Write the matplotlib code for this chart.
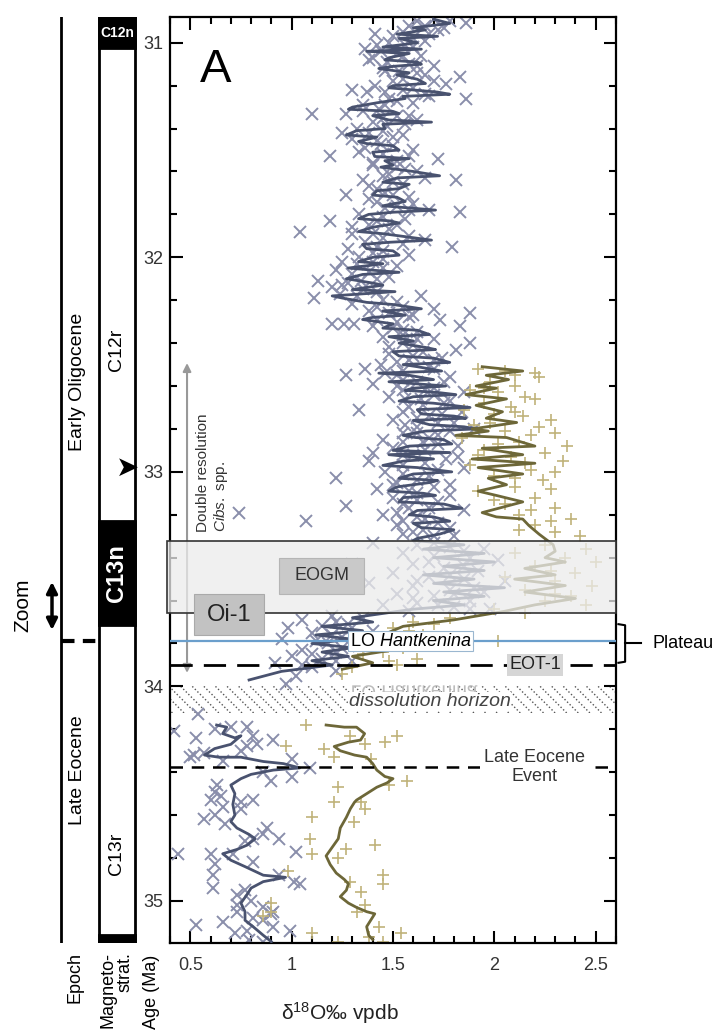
import numpy as np
import matplotlib
matplotlib.use('Agg')
import matplotlib.pyplot as plt
from matplotlib.patches import Rectangle, PathPatch
from matplotlib.textpath import TextPath
from matplotlib.font_manager import FontProperties
from matplotlib.transforms import Affine2D
from matplotlib.ticker import MultipleLocator

plt.rcParams['font.family'] = ['Liberation Sans', 'DejaVu Sans']
plt.rcParams['mathtext.fontset'] = 'custom'
plt.rcParams['mathtext.rm'] = 'Liberation Sans'
plt.rcParams['mathtext.it'] = 'Liberation Sans:italic'

# Cibicidoides line (Ma, d18O), upper part above dissolution horizon
cib_line_age = [30.89, 30.91, 30.93, 30.94, 30.96, 30.97, 30.98, 31.00, 31.02, 31.03,
                31.04, 31.05, 31.07, 31.08, 31.09, 31.10, 31.11, 31.12, 31.14, 31.15,
                31.17, 31.19, 31.20, 31.21, 31.23, 31.24, 31.25, 31.26, 31.28, 31.30,
                31.31, 31.32, 31.33, 31.34, 31.36, 31.37, 31.38, 31.40, 31.41, 31.43,
                31.44, 31.46, 31.47, 31.48, 31.50, 31.51, 31.53, 31.54, 31.55, 31.57,
                31.58, 31.60, 31.62, 31.63, 31.65, 31.66, 31.68, 31.69, 31.71, 31.72,
                31.74, 31.76, 31.78, 31.79, 31.80, 31.82, 31.83, 31.84, 31.86, 31.88,
                31.89, 31.90, 31.92, 31.93, 31.94, 31.96, 31.97, 31.99, 32.00, 32.02,
                32.03, 32.05, 32.06, 32.07, 32.08, 32.10, 32.12, 32.13, 32.15, 32.16,
                32.18, 32.19, 32.21, 32.22, 32.24, 32.25, 32.27, 32.28, 32.29, 32.31,
                32.33, 32.34, 32.36, 32.37, 32.39, 32.40, 32.42, 32.43, 32.44, 32.46,
                32.47, 32.49, 32.50, 32.51, 32.53, 32.54, 32.55, 32.57, 32.58, 32.59,
                32.60, 32.61, 32.62, 32.63, 32.64, 32.65, 32.67, 32.68, 32.70, 32.71,
                32.73, 32.74, 32.75, 32.76, 32.78, 32.79, 32.80, 32.81, 32.83, 32.84,
                32.85, 32.87, 32.88, 32.90, 32.91, 32.92, 32.94, 32.95, 32.97, 32.98,
                33.00, 33.01, 33.03, 33.04, 33.05, 33.07, 33.09, 33.10, 33.11, 33.12,
                33.14, 33.15, 33.17, 33.18, 33.20, 33.21, 33.23, 33.24, 33.26, 33.27,
                33.29, 33.31, 33.32, 33.34, 33.36, 33.38, 33.40, 33.42, 33.44, 33.46,
                33.48, 33.50, 33.52, 33.54, 33.56, 33.58, 33.60, 33.62, 33.64, 33.66,
                33.68, 33.70, 33.72, 33.74, 33.76, 33.78, 33.80, 33.82, 33.84, 33.86,
                33.88, 33.90, 33.93, 33.97]
cib_line_d18o = [1.70, 1.78, 1.60, 1.66, 1.52, 1.72, 1.53, 1.62, 1.45, 1.64,
                 1.37, 1.58, 1.48, 1.46, 1.62, 1.64, 1.50, 1.43, 1.58, 1.52,
                 1.62, 1.66, 1.50, 1.48, 1.72, 1.78, 1.55, 1.56, 1.42, 1.30,
                 1.28, 1.50, 1.53, 1.40, 1.48, 1.69, 1.45, 1.46, 1.32, 1.27,
                 1.42, 1.33, 1.37, 1.50, 1.53, 1.40, 1.41, 1.58, 1.46, 1.50,
                 1.44, 1.60, 1.73, 1.52, 1.45, 1.58, 1.53, 1.42, 1.40, 1.52,
                 1.56, 1.45, 1.71, 1.50, 1.38, 1.33, 1.48, 1.53, 1.40, 1.33,
                 1.45, 1.53, 1.69, 1.48, 1.35, 1.37, 1.50, 1.53, 1.40, 1.33,
                 1.45, 1.28, 1.40, 1.53, 1.35, 1.27, 1.40, 1.45, 1.30, 1.51,
                 1.20, 1.25, 1.37, 1.50, 1.64, 1.45, 1.56, 1.40, 1.35, 1.50,
                 1.45, 1.62, 1.68, 1.48, 1.60, 1.53, 1.66, 1.71, 1.50, 1.53,
                 1.70, 1.78, 1.55, 1.62, 1.74, 1.43, 1.58, 1.70, 1.48, 1.62,
                 1.76, 1.60, 1.56, 1.72, 1.81, 1.60, 1.53, 1.70, 1.88, 1.62,
                 1.64, 1.80, 1.86, 1.60, 1.68, 1.85, 1.91, 1.66, 1.55, 1.61,
                 1.75, 1.79, 1.58, 1.50, 1.78, 1.48, 1.70, 1.55, 1.45, 1.62,
                 1.79, 1.60, 1.53, 1.72, 1.68, 1.52, 1.48, 1.65, 1.71, 1.55,
                 1.53, 1.75, 1.84, 1.62, 1.58, 1.70, 1.78, 1.60, 1.64, 1.80,
                 1.73, 1.62, 1.60, 1.85, 1.65, 1.95, 1.70, 2.00, 1.75, 1.95,
                 1.65, 1.90, 1.70, 2.05, 1.75, 1.95, 1.70, 1.85, 1.60, 1.45,
                 1.30, 1.40, 1.15, 1.35, 1.12, 1.30, 1.10, 1.30, 1.15, 1.28,
                 1.10, 1.20, 0.95, 0.79]

# Cibicidoides line, lower part (Late Eocene)
cib_low_age = [34.18, 34.19, 34.22, 34.24, 34.23, 34.27, 34.29, 34.32, 34.33, 34.33,
               34.35, 34.36, 34.38, 34.39, 34.41, 34.43, 34.46, 34.50, 34.55, 34.60,
               34.63, 34.66, 34.69, 34.71, 34.74, 34.76, 34.78, 34.81, 34.84, 34.88,
               34.89, 34.91, 34.94, 34.97, 35.01, 35.05, 35.09, 35.12, 35.16, 35.19]
cib_low_d18o = [0.63, 0.68, 0.66, 0.72, 0.75, 0.70, 0.62, 0.57, 0.64, 0.75,
                0.86, 0.96, 1.04, 0.91, 0.80, 0.75, 0.70, 0.72, 0.71, 0.72,
                0.70, 0.73, 0.79, 0.82, 0.78, 0.73, 0.66, 0.70, 0.77, 0.86,
                0.97, 0.86, 0.80, 0.78, 0.75, 0.77, 0.77, 0.81, 0.86, 0.90]

# Cibicidoides single measurements (crosses)
cib_pts_age = [30.90, 30.89, 30.90, 30.91, 30.92, 30.93, 30.95, 30.96, 30.96, 30.98,
               31.00, 31.01, 31.03, 31.04, 31.05, 31.06, 31.07, 31.09, 31.10, 31.11,
               31.12, 31.13, 31.14, 31.16, 31.19, 31.18, 31.20, 31.22, 31.23, 31.22,
               31.24, 31.26, 31.26, 31.28, 31.29, 31.31, 31.33, 31.33, 31.34, 31.36,
               31.37, 31.39, 31.40, 31.42, 31.43, 31.45, 31.46, 31.48, 31.49, 31.53,
               31.52, 31.53, 31.54, 31.56, 31.58, 31.60, 31.64, 31.62, 31.64, 31.66,
               31.68, 31.71, 31.71, 31.73, 31.75, 31.77, 31.79, 31.78, 31.80, 31.83,
               31.83, 31.85, 31.86, 31.88, 31.89, 31.90, 31.92, 31.93, 31.95, 31.96,
               31.97, 32.00, 32.02, 32.02, 32.04, 32.06, 32.08, 32.11, 32.10, 32.12,
               32.14, 32.15, 32.18, 32.17, 32.19, 32.20, 32.22, 32.23, 32.25, 32.26,
               32.27, 32.29, 32.29, 32.31, 32.31, 32.31, 32.32, 32.33, 32.35, 32.37,
               32.38, 32.40, 32.40, 32.43, 32.44, 32.45, 32.47, 32.48, 32.50, 32.51,
               32.52, 32.55, 32.55, 32.56, 32.58, 32.59, 32.61, 32.62, 32.63, 32.65,
               32.66, 32.68, 32.71, 32.70, 32.72, 32.74, 32.76, 32.77, 32.79, 32.80,
               32.82, 32.83, 32.85, 32.86, 32.88, 32.89, 32.91, 32.92, 32.94, 32.95,
               32.97, 32.98, 33.00, 33.03, 33.02, 33.05, 33.06, 33.08, 33.10, 33.12,
               33.16, 33.14, 33.17, 33.18, 33.20, 33.23, 33.22, 33.25, 33.26, 33.19,
               33.28, 33.30, 33.33, 33.34, 33.35, 33.36, 33.38, 33.39, 33.40, 33.41,
               33.43, 33.43, 33.45, 33.46, 33.47, 33.49, 33.50, 33.51, 33.52, 33.53,
               33.55, 33.56, 33.57, 33.58, 33.60, 33.61, 33.62, 33.63, 33.64, 33.65,
               33.67, 33.68, 33.69, 33.71, 33.72, 33.73, 33.74, 33.75, 33.77, 33.78,
               33.80, 33.81, 33.83, 33.84, 33.86, 33.87, 33.88, 33.89, 33.91, 33.93,
               33.99, 34.13, 33.95,
               30.92, 30.94, 30.97, 30.99, 31.01, 31.02, 31.06, 31.08, 31.11, 31.13,
               31.15, 31.17, 31.18, 31.21, 31.23, 31.25, 31.27, 31.29, 31.32, 31.34,
               31.35, 31.38, 31.41, 31.42, 31.44, 31.47, 31.50, 31.51, 31.55, 31.57,
               31.59, 31.61, 31.63, 31.65, 31.67, 31.70, 31.72, 31.74, 31.76, 31.78,
               31.81, 31.82, 31.85, 31.87, 31.89, 31.91, 31.94, 31.95, 31.98, 31.99,
               32.01, 32.03, 32.05, 32.07, 32.09, 32.11, 32.13, 32.16, 32.18, 32.21,
               32.23, 32.24, 32.26, 32.28, 32.30, 32.32, 32.34, 32.36, 32.38, 32.41,
               32.42, 32.46, 32.48, 32.49, 32.52, 32.53, 32.54, 32.57, 32.58, 32.60,
               32.62, 32.64, 32.66, 32.67, 32.69, 32.72, 32.73, 32.75, 32.77, 32.78,
               32.81, 32.82, 32.84, 32.86, 32.87, 32.90, 32.92, 32.93, 32.96, 32.99,
               33.01, 33.04, 33.06, 33.07, 33.09, 33.11, 33.13, 33.15, 33.17, 33.19,
               33.21, 33.23, 33.24, 33.27, 33.29, 33.30, 33.33, 33.37, 33.42, 33.44,
               33.48, 33.51, 33.54, 33.57, 33.59, 33.62, 33.64, 33.70, 33.73, 33.76,
               33.79, 33.82, 33.85, 33.88, 33.90,
               34.21, 34.24, 34.20, 34.19, 34.19, 34.23, 34.25, 34.27, 34.32, 34.33,
               34.31, 34.35, 34.30, 34.28, 34.40, 34.44, 34.42, 34.38, 34.34, 34.46,
               34.49, 34.51, 34.53, 34.56, 34.54, 34.53, 34.57, 34.62, 34.60, 34.64,
               34.66, 34.69, 34.71, 34.72, 34.71, 34.78, 34.78, 34.77, 34.83, 34.88,
               34.94, 34.82, 34.78, 34.88, 34.91, 34.92, 34.97, 34.95, 35.02, 35.00,
               35.03, 35.05, 35.06, 35.08, 35.11, 35.10, 35.15, 35.14, 35.09, 35.12,
               35.14, 35.18, 35.19, 35.05]
cib_pts_d18o = [1.62, 1.70, 1.78, 1.86, 1.66, 1.75, 1.55, 1.68, 1.41, 1.60,
                1.48, 1.56, 1.36, 1.44, 1.52, 1.64, 1.40, 1.47, 1.58, 1.70,
                1.45, 1.53, 1.62, 1.83, 1.76, 1.50, 1.41, 1.30, 1.37, 1.55,
                1.66, 1.86, 1.48, 1.60, 1.35, 1.43, 1.10, 1.27, 1.52, 1.62,
                1.40, 1.47, 1.32, 1.38, 1.55, 1.30, 1.42, 1.50, 1.36, 1.19,
                1.45, 1.58, 1.72, 1.40, 1.52, 1.62, 1.81, 1.45, 1.35, 1.55,
                1.42, 1.27, 1.50, 1.38, 1.60, 1.46, 1.83, 1.68, 1.33, 1.19,
                1.42, 1.52, 1.30, 1.04, 1.40, 1.58, 1.66, 1.36, 1.79, 1.28,
                1.45, 1.33, 1.25, 1.40, 1.52, 1.22, 1.30, 1.13, 1.42, 1.28,
                1.20, 1.35, 1.64, 1.24, 1.11, 1.45, 1.30, 1.55, 1.38, 1.88,
                1.60, 1.73, 1.42, 1.20, 1.26, 1.31, 1.83, 1.50, 1.62, 1.45,
                1.70, 1.88, 1.55, 1.81, 1.65, 1.48, 1.74, 1.58, 1.44, 1.68,
                1.36, 1.27, 1.52, 1.78, 1.62, 1.40, 1.70, 1.55, 1.85, 1.48,
                1.64, 1.75, 1.33, 1.58, 1.84, 1.68, 1.50, 1.80, 1.62, 1.90,
                1.55, 1.72, 1.45, 1.65, 1.82, 1.50, 1.40, 1.60, 1.76, 1.38,
                1.55, 1.85, 1.46, 1.22, 1.68, 1.52, 1.78, 1.42, 1.62, 1.50,
                1.27, 1.72, 1.58, 1.85, 1.45, 1.07, 1.66, 1.52, 1.78, 0.74,
                1.60, 1.70, 1.40, 1.62, 1.78, 1.95, 1.55, 1.70, 1.88, 2.02,
                1.30, 1.60, 1.75, 1.92, 1.50, 1.68, 1.85, 2.05, 1.38, 1.60,
                1.78, 1.95, 1.52, 1.70, 1.88, 1.62, 1.45, 1.80, 1.98, 1.58,
                1.20, 1.35, 1.05, 1.28, 1.15, 0.98, 1.40, 1.10, 1.25, 0.95,
                1.18, 1.33, 1.05, 1.22, 1.00, 1.15, 1.30, 0.92, 1.10, 1.22,
                0.97, 0.54, 1.02,
                1.58, 1.72, 1.50, 1.66, 1.42, 1.60, 1.55, 1.38, 1.62, 1.46,
                1.66, 1.55, 1.70, 1.60, 1.46, 1.68, 1.52, 1.46, 1.35, 1.58,
                1.45, 1.56, 1.45, 1.25, 1.50, 1.44, 1.60, 1.33, 1.52, 1.40,
                1.56, 1.48, 1.66, 1.50, 1.38, 1.46, 1.58, 1.42, 1.52, 1.58,
                1.45, 1.56, 1.38, 1.48, 1.30, 1.45, 1.55, 1.42, 1.40, 1.58,
                1.45, 1.32, 1.45, 1.38, 1.48, 1.34, 1.25, 1.42, 1.32, 1.52,
                1.42, 1.70, 1.48, 1.58, 1.52, 1.40, 1.55, 1.55, 1.62, 1.60,
                1.48, 1.60, 1.70, 1.52, 1.70, 1.55, 1.46, 1.55, 1.75, 1.52,
                1.66, 1.70, 1.56, 1.78, 1.65, 1.55, 1.74, 1.62, 1.72, 1.56,
                1.78, 1.62, 1.68, 1.55, 1.72, 1.66, 1.55, 1.82, 1.66, 1.72,
                1.55, 1.62, 1.50, 1.70, 1.58, 1.78, 1.62, 1.55, 1.68, 1.52,
                1.62, 1.55, 1.72, 1.65, 1.55, 1.80, 1.70, 1.85, 1.68, 1.85,
                1.78, 1.62, 1.90, 1.80, 1.60, 1.72, 1.88, 1.22, 1.30, 1.20,
                1.12, 1.25, 1.10, 1.22, 1.05,
                0.42, 0.53, 0.62, 0.70, 0.78, 0.81, 0.91, 0.83, 0.52, 0.50,
                0.57, 0.66, 0.75, 0.78, 0.86, 0.90, 1.00, 1.09, 1.00, 0.63,
                0.62, 0.65, 0.60, 0.66, 0.75, 0.81, 0.75, 0.57, 0.62, 0.67,
                0.88, 0.86, 0.94, 0.77, 0.81, 0.44, 0.60, 1.02, 0.62, 0.61,
                0.61, 0.81, 0.71, 0.94, 1.01, 1.04, 0.73, 0.77, 0.73, 0.80,
                0.86, 0.91, 0.90, 0.81, 0.53, 0.66, 0.72, 0.78, 0.86, 0.91,
                0.99, 0.79, 0.86, 0.73]

# Second taxon line (olive), upper and lower parts
oli_line_age = [32.51, 32.53, 32.55, 32.57, 32.60, 32.61, 32.64, 32.66, 32.69, 32.72,
                32.75, 32.77, 32.80, 32.81, 32.83, 32.84, 32.88, 32.89, 32.92, 32.94,
                32.96, 32.98, 33.01, 33.03, 33.06, 33.09, 33.11, 33.14, 33.19, 33.21,
                33.22, 33.25, 33.29, 33.34, 33.37, 33.40, 33.42, 33.45, 33.48, 33.50,
                33.53, 33.56, 33.59, 33.62, 33.65, 33.69, 33.72, 33.76, 33.80, 33.83,
                33.86, 33.89, 33.92]
oli_line_d18o = [1.94, 2.14, 1.96, 2.07, 1.91, 2.01, 1.86, 2.06, 1.91, 2.04,
                 1.96, 2.11, 1.89, 1.97, 1.81, 2.06, 2.20, 1.94, 2.14, 1.89,
                 2.20, 1.92, 2.14, 1.97, 2.06, 1.92, 2.01, 2.14, 1.94, 2.01,
                 2.14, 2.17, 2.22, 2.29, 2.30, 2.25, 2.35, 2.15, 2.30, 2.10,
                 2.35, 2.15, 2.40, 2.20, 2.05, 1.80, 1.55, 1.45, 1.35, 1.50,
                 1.30, 1.40, 1.25]
oli_low_age = [34.18, 34.19, 34.19, 34.22, 34.25, 34.26, 34.28, 34.30, 34.32, 34.33,
               34.36, 34.39, 34.42, 34.43, 34.45, 34.47, 34.50, 34.53, 34.54, 34.57,
               34.61, 34.66, 34.71, 34.75, 34.79, 34.83, 34.87, 34.90, 34.92, 34.95,
               34.98, 35.01, 35.03, 35.05, 35.06, 35.09, 35.12, 35.16, 35.18]
oli_low_d18o = [1.17, 1.26, 1.32, 1.36, 1.34, 1.28, 1.21, 1.24, 1.31, 1.37,
                1.40, 1.42, 1.46, 1.50, 1.47, 1.42, 1.37, 1.32, 1.31, 1.29,
                1.27, 1.24, 1.23, 1.20, 1.17, 1.19, 1.22, 1.26, 1.28, 1.27,
                1.24, 1.28, 1.32, 1.37, 1.41, 1.39, 1.37, 1.38, 1.40]

oli_pts_age = [32.52, 32.53, 32.54, 32.56, 32.58, 32.60, 32.62, 32.63, 32.65, 32.68,
               32.70, 32.71, 32.73, 32.74, 32.76, 32.78, 32.79, 32.81, 32.82, 32.84,
               32.86, 32.88, 32.90, 32.91, 32.93, 32.95, 32.97, 32.99, 33.00, 33.02,
               33.04, 33.07, 33.09, 33.12, 33.15, 33.17, 33.20, 33.22, 33.25, 33.28,
               33.30, 33.34, 33.36, 33.38, 33.40, 33.42, 33.44, 33.47, 33.49, 33.51,
               33.53, 33.55, 33.58, 33.60, 33.62, 33.64, 33.68, 33.70, 33.73, 33.76,
               33.79, 33.82, 33.85, 33.88, 33.91, 33.87, 33.94, 33.79,
               32.55, 32.61, 32.66, 32.72, 32.77, 32.83, 32.87, 32.92, 32.96, 33.03,
               33.08, 33.13, 33.18, 33.23, 33.27, 33.46, 33.57, 33.66, 33.71, 33.74,
               33.84, 33.90,
               34.18, 34.28, 34.29, 34.33, 34.23, 34.27, 34.26, 34.23, 34.34, 34.44,
               34.46, 34.47, 34.54, 34.54, 34.57, 34.63, 34.61, 34.71, 34.78, 34.80,
               34.76, 34.74, 34.88, 34.92, 34.86, 34.91, 34.96, 35.02, 35.05, 35.01,
               35.05, 35.07, 35.15, 35.19, 35.12, 35.19, 35.15, 35.17]
oli_pts_d18o = [1.92, 2.05, 2.20, 2.22, 1.98, 2.10, 1.88, 2.02, 2.15, 1.95,
                2.08, 1.85, 2.00, 2.14, 2.28, 1.90, 2.22, 2.05, 2.30, 1.84,
                2.12, 2.36, 1.95, 2.25, 2.08, 2.34, 1.88, 2.18, 2.30, 2.00,
                2.24, 2.10, 1.92, 2.20, 2.05, 2.30, 2.12, 2.38, 2.20, 2.30,
                2.42, 2.25, 2.45, 2.10, 2.35, 2.50, 2.20, 2.40, 2.05, 2.30,
                2.48, 2.15, 2.38, 2.25, 2.45, 2.00, 1.78, 1.60, 1.50, 1.65,
                1.42, 1.55, 1.35, 1.48, 1.30, 1.62, 1.25, 2.02,
                2.10, 1.95, 2.20, 2.10, 1.98, 2.18, 2.02, 1.92, 2.15, 2.10,
                2.28, 2.00, 2.18, 2.28, 2.12, 2.28, 2.30, 2.15, 1.70, 1.58,
                1.45, 1.52,
                1.07, 0.97, 1.16, 1.21, 1.29, 1.36, 1.46, 1.52, 1.39, 1.57,
                1.48, 1.23, 1.21, 1.34, 1.36, 1.31, 1.10, 1.09, 1.10, 1.23,
                1.27, 1.41, 1.45, 1.45, 0.98, 1.29, 1.34, 1.36, 1.32, 0.90,
                0.90, 0.86, 1.10, 1.23, 1.43, 1.45, 1.54, 1.38]

# event levels (Ma)
eogm_band = (33.32, 33.66)
lo_hantkenina = 33.79
eot1 = 33.90
dissolution = (34.00, 34.125)
late_eocene_event = 34.375

# magnetostratigraphy (black = normal polarity)
chron_black = [(30.88, 31.025), (33.23, 33.715), (35.16, 35.196)]
epoch_boundary = 33.79

cross_col = '#8a8eab'
cib_col = '#49526f'
plus_col = '#c0b37a'
oli_col = '#6d6738'

fig = plt.figure(figsize=(7.21, 10.30), dpi=100)
W, H = 721, 1030
ax_l, ax_r, ax_t, ax_b = 170, 616, 17, 943
ax = fig.add_axes([ax_l / W, 1 - ax_b / H, (ax_r - ax_l) / W, (ax_b - ax_t) / H])
ax.set_xlim(0.40, 2.60)
ax.set_ylim(35.196, 30.88)

ax.plot(cib_pts_d18o, cib_pts_age, 'x', color=cross_col, ms=8, mew=1.4, zorder=2)
ax.plot(oli_pts_d18o, oli_pts_age, '+', color=plus_col, ms=9, mew=1.2, zorder=2)
ax.plot(cib_line_d18o, cib_line_age, color=cib_col, lw=2, zorder=3)
ax.plot(cib_low_d18o, cib_low_age, color=cib_col, lw=2, zorder=3)
ax.plot(oli_line_d18o, oli_line_age, color=oli_col, lw=2, zorder=3)
ax.plot(oli_low_d18o, oli_low_age, color=oli_col, lw=2, zorder=3)

# EOGM shaded box
ax.add_patch(Rectangle((-0.006, eogm_band[0]), 1.006, eogm_band[1] - eogm_band[0],
                       transform=ax.get_yaxis_transform(), fc='#ececec', alpha=0.75,
                       ec='none', zorder=4, clip_on=False))
ax.add_patch(Rectangle((-0.006, eogm_band[0]), 1.006, eogm_band[1] - eogm_band[0],
                       transform=ax.get_yaxis_transform(), fc='none',
                       ec='#333333', lw=1.2, zorder=4.1, clip_on=False))
ax.add_patch(Rectangle((0.938, 33.40), 0.42, 0.17, fc='#c9c9c9', ec='#b5b5b5', lw=0.8, zorder=5))
ax.text(1.148, 33.485, 'EOGM', ha='center', va='center', fontsize=13, color='#333333', zorder=6)
ax.add_patch(Rectangle((0.518, 33.57), 0.346, 0.19, fc='#c2c2c2', ec='#aaaaaa', lw=0.8, zorder=5))
ax.text(0.691, 33.665, 'Oi-1', ha='center', va='center', fontsize=17, color='#222222', zorder=6)

# LO Hantkenina
ax.axhline(lo_hantkenina, color='#6b9fcc', lw=1.6, zorder=5)
ax.text(1.587, lo_hantkenina, 'LO $\\it{Hantkenina}$', ha='center', va='center', fontsize=13,
        zorder=6, bbox=dict(boxstyle='square,pad=0.08', fc='white', ec='#9bb7d0', lw=0.8))

# EOT-1
ax.axhline(eot1, color='black', lw=2, dashes=(8, 4), zorder=5)
ax.text(2.20, eot1, 'EOT-1', ha='center', va='center', fontsize=13, color='#222222', zorder=6,
        bbox=dict(boxstyle='square,pad=0.12', fc='#d6d6d6', ec='none'))

# dissolution horizon, dotted hatch
y0 = 1 - (dissolution[0] - 30.88) / (35.196 - 30.88)
y1 = 1 - (dissolution[1] - 30.88) / (35.196 - 30.88)
band = Rectangle((0, y1), 1, y0 - y1, transform=ax.transAxes, fc='none', ec='none')
ax.add_patch(band)
for xs in np.arange(-0.08, 1.0, 0.026):
    ln, = ax.plot([xs, xs + 0.06], [y0, y1], transform=ax.transAxes, color='#555555',
                  lw=1.0, ls=(0, (1, 1.6)), zorder=1)
    ln.set_clip_path(band)
ax.text(1.68, 34.07, 'dissolution horizon', ha='center', va='center', fontsize=14,
        style='italic', color='#444444', zorder=6,
        bbox=dict(boxstyle='square,pad=0.05', fc='white', ec='none'))

# Late Eocene Event
ax.axhline(late_eocene_event, color='black', lw=1.8, dashes=(5, 3.5), zorder=5)
ax.text(2.20, late_eocene_event, 'Late Eocene\nEvent', ha='center', va='center', fontsize=13,
        color='#333333', zorder=6, linespacing=1.15,
        bbox=dict(boxstyle='square,pad=0.25', fc='white', ec='none'))

# double resolution arrow
ax.annotate('', xy=(0.484, 33.95), xytext=(0.484, 32.48),
            arrowprops=dict(arrowstyle='<|-|>', color='#999999', lw=1.5, mutation_scale=12),
            zorder=3)
ax.text(0.612, 33.28, 'Double resolution\n$\\it{Cibs.}$ spp.', rotation=90, ha='center',
        va='bottom', fontsize=11, color='#333333', multialignment='left', zorder=6)

ax.text(0.067, 0.967, 'A', transform=ax.transAxes, fontsize=34, va='top', ha='left')

# Plateau bracket
ax.plot([2.612, 2.645, 2.645, 2.612], [33.71, 33.715, 33.885, 33.89], color='black',
        lw=1.5, clip_on=False)
ax.plot([2.645, 2.725], [33.80, 33.80], color='black', lw=1.5, clip_on=False)
ax.text(2.78, 33.80, 'Plateau', ha='left', va='center', fontsize=13, clip_on=False)

ax.xaxis.set_major_locator(MultipleLocator(0.5))
ax.xaxis.set_minor_locator(MultipleLocator(0.1))
ax.yaxis.set_major_locator(MultipleLocator(1))
ax.yaxis.set_minor_locator(MultipleLocator(0.2))
ax.set_xticks([0.5, 1, 1.5, 2, 2.5])
ax.set_xticklabels(['0.5', '1', '1.5', '2', '2.5'])
ax.tick_params(which='both', direction='in', top=True, right=True, width=1.5,
               labelsize=13, labelcolor='#333333')
ax.tick_params(which='major', length=9)
ax.tick_params(which='minor', length=5)
ax.tick_params(axis='x', pad=10)
ax.tick_params(axis='y', pad=5)
for s in ax.spines.values():
    s.set_linewidth(1.6)
ax.text(1.24, -0.076, 'δ$^{18}$O‰ vpdb', transform=ax.get_xaxis_transform(), fontsize=15,
        ha='center', va='center', color='#222222')

# ghost mirror label above dissolution band
fig.canvas.draw()
px, py = ax.transData.transform((1.60, 33.995))
tp = TextPath((0, 0), 'LO Hantkenina', size=19, prop=FontProperties(family='Liberation Sans'))
wpx = tp.get_extents().width
ghost = PathPatch(tp, transform=Affine2D().scale(1, -1).translate(px - wpx / 2, py),
                  fc='#bcbcbc', ec='none', zorder=5.5)
ax.add_patch(ghost)

# left columns: epoch and magnetostratigraphy
axc = fig.add_axes([0, 1 - ax_b / H, ax_l / W, (ax_b - ax_t) / H])
axc.set_xlim(0, ax_l)
axc.set_ylim(35.196, 30.88)
axc.axis('off')
axc.plot([61, 61], [30.88, 35.196], color='black', lw=2)
axc.add_patch(Rectangle((99, 30.88), 36, 35.196 - 30.88, fc='white', ec='black', lw=2))
for top, bot in chron_black:
    axc.add_patch(Rectangle((99, top), 36, bot - top, fc='black', ec='black', lw=2))
axc.plot([62, 98], [epoch_boundary, epoch_boundary], color='black', lw=3, dashes=(3, 2))
axc.text(117, 30.955, 'C12n', color='white', fontsize=10, fontweight='bold', ha='center',
         va='center', family=['Liberation Sans Narrow', 'Liberation Sans'])
axc.text(117, 33.47, 'C13n', color='white', fontsize=17, fontweight='bold', rotation=90,
         ha='center', va='center')
axc.text(117, 32.43, 'C12r', fontsize=14, rotation=90, ha='center', va='center')
axc.text(117, 34.78, 'C13r', fontsize=14, rotation=90, ha='center', va='center')
axc.text(78, 32.58, 'Early Oligocene', fontsize=14, rotation=90, ha='center', va='center')
axc.text(78, 34.39, 'Late Eocene', fontsize=14, rotation=90, ha='center', va='center')
axc.text(23, 33.62, 'Zoom', fontsize=15, rotation=90, ha='center', va='center')
axc.annotate('', xy=(52, 33.50), xytext=(52, 33.75),
             arrowprops=dict(arrowstyle='<|-|>', color='black', lw=2.5, mutation_scale=16))
axc.text(128, 32.98, '➤', fontsize=20, ha='center', va='center', color='black',
         family=['DejaVu Sans'])
axc.text(75, 35.24, 'Epoch', fontsize=13, rotation=90, ha='center', va='top', clip_on=False)
axc.text(117, 35.24, 'Magneto-\nstrat.', fontsize=13, rotation=90, ha='center', va='top',
         multialignment='right', linespacing=1.0, clip_on=False)
axc.text(152, 35.25, 'Age (Ma)', fontsize=13, rotation=90, ha='center', va='top', clip_on=False)

fig.savefig('out.png', dpi=100)
